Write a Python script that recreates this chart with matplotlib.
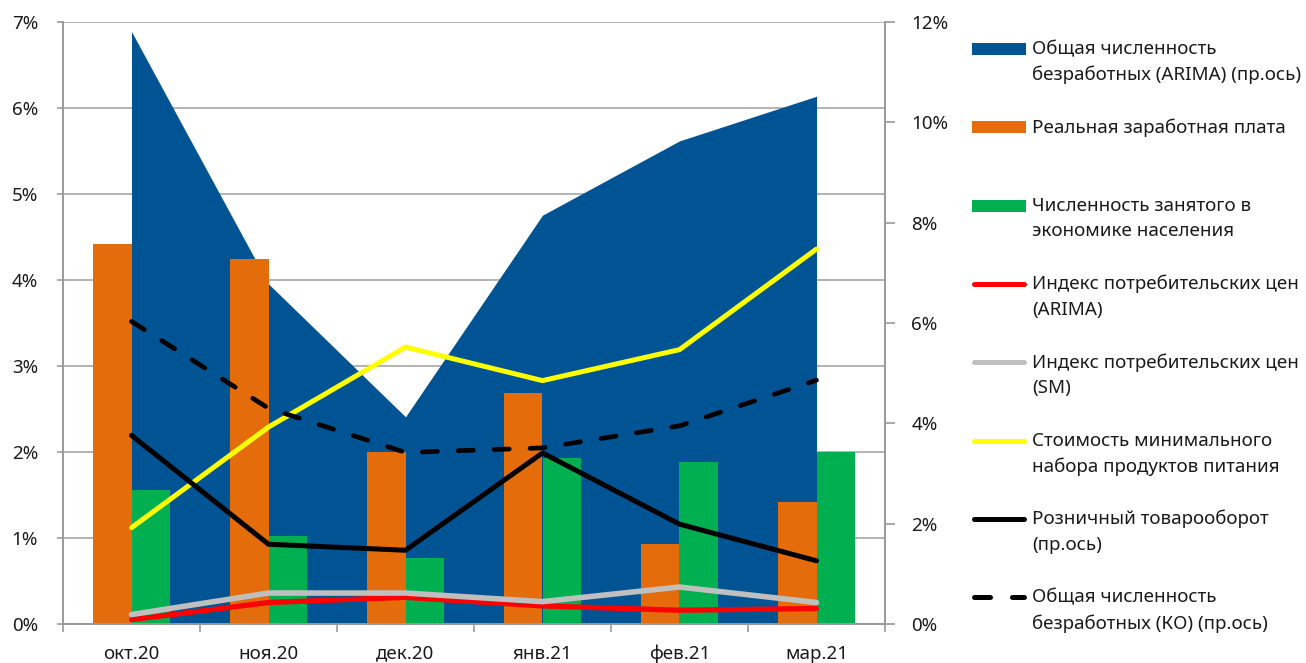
import matplotlib
matplotlib.use("Agg")
import matplotlib.pyplot as plt
from matplotlib.lines import Line2D
from matplotlib.patches import Rectangle
from matplotlib.ticker import PercentFormatter, MultipleLocator, FixedLocator
import numpy as np

plt.rcParams['font.family'] = ['Noto Sans', 'DejaVu Sans']

# ---------------- data ----------------
categories = ["окт.20", "ноя.20", "дек.20", "янв.21", "фев.21", "мар.21"]
unemp_arima = [11.81, 6.78, 4.13, 8.15, 9.63, 10.52]     # right axis, area
real_wage = [4.42, 4.24, 2.00, 2.69, 0.93, 1.42]          # left axis, bars
employed = [1.56, 1.02, 0.77, 1.93, 1.88, 2.00]           # left axis, bars
cpi_arima = [0.05, 0.25, 0.31, 0.21, 0.16, 0.18]          # left axis
cpi_sm = [0.11, 0.36, 0.36, 0.26, 0.43, 0.25]             # left axis
food_basket = [1.12, 2.29, 3.22, 2.83, 3.19, 4.36]        # left axis
retail = [3.76, 1.59, 1.47, 3.41, 1.99, 1.26]             # right axis
unemp_ko = [6.03, 4.30, 3.42, 3.51, 3.95, 4.86]           # right axis

labels = [
    "Общая численность\nбезработных (ARIMA) (пр.ось)",
    "Реальная заработная плата",
    "Численность занятого в\nэкономике населения",
    "Индекс потребительских цен\n(ARIMA)",
    "Индекс потребительских цен\n(SM)",
    "Стоимость минимального\nнабора продуктов питания",
    "Розничный товарооборот\n(пр.ось)",
    "Общая численность\nбезработных (КО) (пр.ось)",
]

C_BLUE = "#005494"
C_ORANGE = "#E46C0A"
C_GREEN = "#00B050"
C_RED = "#FF0000"
C_GRAY = "#BFBFBF"
C_YELLOW = "#FFFF00"
C_BLACK = "#000000"
C_AXIS = "#999999"

W, H = 1306, 663
fig = plt.figure(figsize=(W / 100, H / 100), dpi=100)
fig.patch.set_facecolor("white")

def fx(px):
    return px / W

def fy(py):
    return 1 - py / H

ax = fig.add_axes([fx(63), fy(624), fx(885) - fx(63), fy(22) - fy(624)])
axR = ax.twinx()

x = np.arange(len(categories))
ax.set_xlim(-0.5, len(categories) - 0.5)
ax.set_ylim(0, 7)
axR.set_ylim(0, 12)

# grid (left axis ticks)
ax.yaxis.set_major_locator(MultipleLocator(1))
ax.grid(axis="y", color="#A6A6A6", linewidth=1.2, zorder=0)
ax.set_axisbelow(True)

# area on right scale
ax.fill_between(x, 0, unemp_arima, color=C_BLUE, linewidth=0,
                transform=axR.transData, zorder=1)

# bars
bw = 0.283
ax.bar(x - bw / 2, real_wage, width=bw, color=C_ORANGE, zorder=2)
ax.bar(x + bw / 2, employed, width=bw, color=C_GREEN, zorder=2)

# lines (left)
ax.plot(x, cpi_arima, color=C_RED, lw=3.8, solid_capstyle="round", solid_joinstyle="round", zorder=3)
ax.plot(x, cpi_sm, color=C_GRAY, lw=4.0, solid_capstyle="round", solid_joinstyle="round", zorder=3)
ax.plot(x, food_basket, color=C_YELLOW, lw=3.6, solid_capstyle="round", solid_joinstyle="round", zorder=3)
# lines (right)
ax.plot(x, retail, color=C_BLACK, lw=3.6, solid_capstyle="round", solid_joinstyle="round",
        transform=axR.transData, zorder=4)
ax.plot(x, unemp_ko, color=C_BLACK, lw=3.4, dashes=(3.2, 4.4), dash_capstyle="round",
        transform=axR.transData, zorder=4)
ax.set_ylim(0, 7)
ax.set_xlim(-0.5, len(categories) - 0.5)

# axes styling
for a in (ax, axR):
    for s in a.spines.values():
        s.set_color(C_AXIS)
        s.set_linewidth(1.2)
ax.spines["top"].set_visible(False)
axR.spines["top"].set_visible(False)

ax.yaxis.set_major_formatter(PercentFormatter(decimals=0))
axR.yaxis.set_major_locator(MultipleLocator(2))
axR.yaxis.set_major_formatter(PercentFormatter(decimals=0))

ax.set_xticks(x)
ax.set_xticklabels(categories)
ax.xaxis.set_minor_locator(FixedLocator(np.arange(-0.5, len(categories), 1.0)))
ax.tick_params(axis="x", which="major", length=0, pad=15, labelsize=13.5, labelcolor="#1a1a1a")
ax.tick_params(axis="x", which="minor", length=6, width=1.2, color=C_AXIS, direction="out")
ax.tick_params(axis="y", length=4, width=1.2, color=C_AXIS, pad=14, labelsize=13.5, labelcolor="#1a1a1a")
axR.tick_params(axis="y", length=7, width=1.2, color=C_AXIS, pad=12, labelsize=13.5, labelcolor="#1a1a1a")

# ---------------- legend (manual) ----------------
y0, step = 49, 78.3
hx0, hx1 = 972, 1026
for i, lab in enumerate(labels):
    yc = y0 + i * step
    if i == 0 or i == 1 or i == 2:
        col = [C_BLUE, C_ORANGE, C_GREEN][i]
        fig.patches.append(Rectangle((fx(hx0), fy(yc + 6)), fx(hx1) - fx(hx0), fy(yc - 6) - fy(yc + 6),
                                     transform=fig.transFigure, facecolor=col, edgecolor="none"))
    else:
        col = {3: C_RED, 4: C_GRAY, 5: C_YELLOW, 6: C_BLACK, 7: C_BLACK}[i]
        kw = dict(color=col, lw=3.6, solid_capstyle="round")
        if i == 7:
            kw = dict(color=col, lw=3.6, dashes=(3.2, 4.4), dash_capstyle="round")
        fig.lines.append(Line2D([fx(hx0 + 2), fx(hx1 - 2)], [fy(yc), fy(yc)],
                                transform=fig.transFigure, **kw))
    fig.text(fx(1032), fy(yc - 9), lab, ha="left", va="top", fontsize=13.5,
             color="#1a1a1a", linespacing=1.55)

fig.savefig("out.png", dpi=100, facecolor="white")
